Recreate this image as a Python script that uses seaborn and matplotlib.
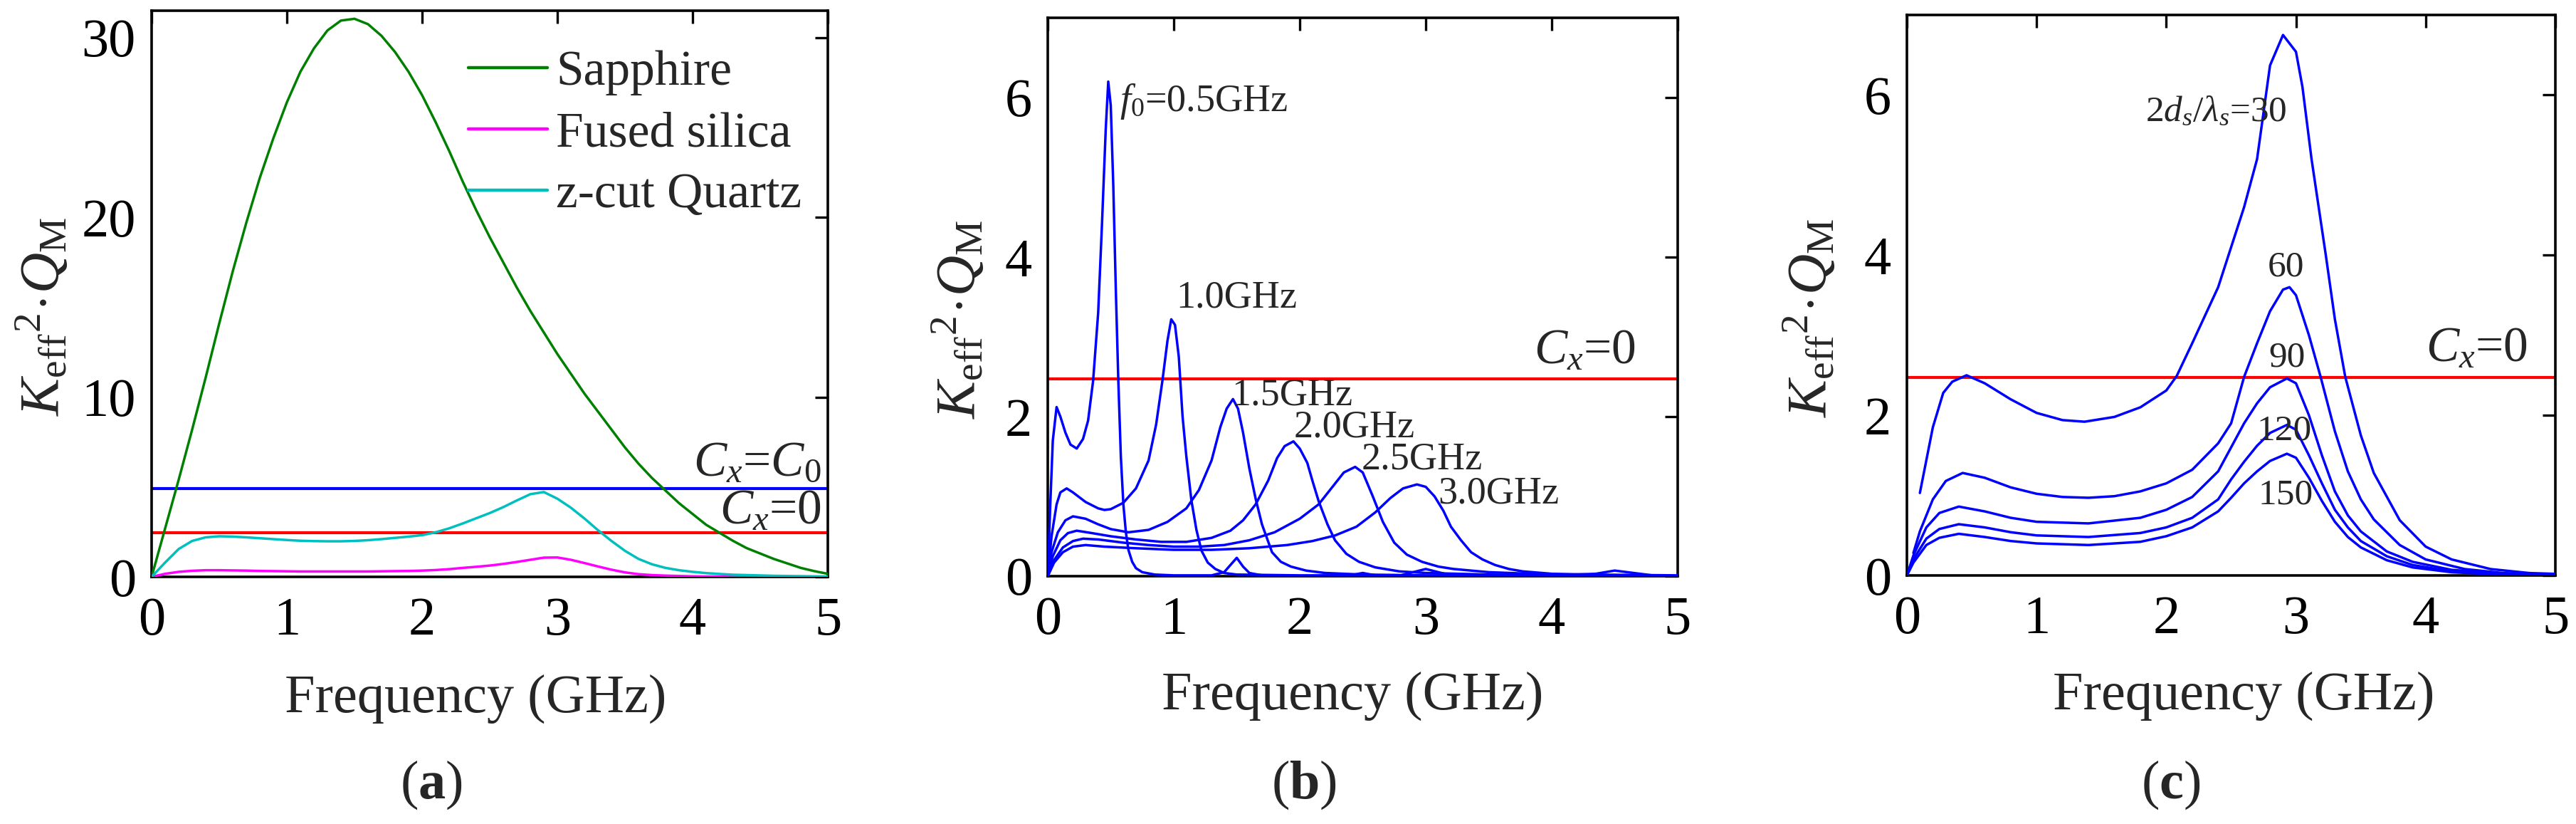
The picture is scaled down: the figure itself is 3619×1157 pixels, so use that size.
import numpy as np
import pandas as pd
import matplotlib
matplotlib.use("Agg")
import matplotlib.pyplot as plt
import seaborn as sns

# ---------------- data ----------------
# panel (a)
freq_a = [0.0, 0.1, 0.2, 0.3, 0.4, 0.5, 0.6, 0.7, 0.8, 0.9, 1.0, 1.1, 1.2, 1.3, 1.4, 1.5, 1.6, 1.7,
          1.8, 1.9, 2.0, 2.1, 2.2, 2.3, 2.4, 2.5, 2.6, 2.7, 2.8, 2.9, 3.0, 3.1, 3.2, 3.3, 3.4, 3.5,
          3.6, 3.7, 3.8, 3.9, 4.0, 4.1, 4.2, 4.3, 4.4, 4.5, 4.6, 4.7, 4.8, 4.9, 5.0]
sapphire = [0.0, 2.7, 5.4, 8.2, 11.1, 14.1, 17.0, 19.7, 22.2, 24.4, 26.4, 28.1, 29.4, 30.4, 30.95,
            31.05, 30.75, 30.1, 29.2, 28.1, 26.8, 25.3, 23.7, 22.0, 20.4, 18.9, 17.5, 16.1, 14.8,
            13.6, 12.4, 11.3, 10.2, 9.2, 8.2, 7.2, 6.3, 5.5, 4.8, 4.1, 3.5, 2.9, 2.45, 2.0, 1.6,
            1.3, 1.0, 0.75, 0.5, 0.32, 0.17]
fused_silica = [0.0, 0.17, 0.28, 0.34, 0.37, 0.37, 0.36, 0.35, 0.33, 0.32, 0.31, 0.30, 0.30, 0.30,
                0.30, 0.30, 0.30, 0.31, 0.32, 0.33, 0.35, 0.38, 0.43, 0.50, 0.56, 0.63, 0.72, 0.83,
                0.95, 1.07, 1.08, 0.95, 0.77, 0.58, 0.40, 0.25, 0.15, 0.10, 0.07, 0.05, 0.03, 0.02,
                0.02, 0.01, 0.01, 0.01, 0.0, 0.0, 0.0, 0.0, 0.0]
zcut_quartz = [0.0, 0.8, 1.55, 2.0, 2.2, 2.26, 2.24, 2.2, 2.15, 2.1, 2.05, 2.01, 1.99, 1.98, 1.98,
               2.0, 2.04, 2.1, 2.17, 2.24, 2.32, 2.48, 2.7, 2.97, 3.26, 3.55, 3.88, 4.25, 4.6, 4.72,
               4.35, 3.85, 3.25, 2.6, 2.0, 1.45, 1.0, 0.7, 0.5, 0.37, 0.28, 0.21, 0.16, 0.12, 0.10,
               0.08, 0.06, 0.05, 0.04, 0.03, 0.02]
materials = ["Sapphire", "Fused silica", "z-cut Quartz"]
level_cx0 = 2.47
level_cxc0 = 4.91

# panel (b): resonance frequency f0
b_labels = ["f0=0.5GHz", "1.0GHz", "1.5GHz", "2.0GHz", "2.5GHz", "3.0GHz"]
b_x05 = [0, 0.02, 0.04, 0.07, 0.1, 0.14, 0.18, 0.23, 0.28, 0.32, 0.36, 0.4, 0.43, 0.46, 0.48, 0.5,
         0.52, 0.54, 0.56, 0.58, 0.6, 0.62, 0.64, 0.67, 0.7, 0.75, 0.85, 1.0, 1.3, 1.4, 1.45, 1.5,
         1.55, 1.6, 1.7, 2.0, 2.4, 2.5, 2.6, 3.0, 4.0, 5.0]
b_y05 = [0, 0.9, 1.7, 2.12, 2.0, 1.8, 1.65, 1.6, 1.72, 1.95, 2.45, 3.3, 4.4, 5.6, 6.2, 5.9, 4.9, 3.6,
         2.45, 1.5, 0.9, 0.55, 0.33, 0.18, 0.1, 0.05, 0.02, 0.01, 0.01, 0.05, 0.14, 0.23, 0.12, 0.04,
         0.01, 0.0, 0.01, 0.04, 0.01, 0.0, 0.0, 0.0]
b_x10 = [0, 0.03, 0.07, 0.1, 0.15, 0.2, 0.3, 0.4, 0.45, 0.5, 0.6, 0.7, 0.8, 0.86, 0.91, 0.95, 0.98,
         1.01, 1.04, 1.07, 1.1, 1.14, 1.18, 1.22, 1.27, 1.33, 1.4, 1.5, 2.0, 2.8, 2.9, 3.0, 3.1, 3.2,
         4.0, 5.0]
b_y10 = [0, 0.5, 0.9, 1.05, 1.1, 1.05, 0.93, 0.85, 0.83, 0.84, 0.92, 1.1, 1.45, 1.9, 2.45, 2.95,
         3.22, 3.15, 2.75, 2.0, 1.5, 0.95, 0.58, 0.32, 0.17, 0.09, 0.04, 0.02, 0.01, 0.01, 0.05,
         0.09, 0.05, 0.01, 0.0, 0.0]
b_x15 = [0, 0.03, 0.08, 0.14, 0.2, 0.3, 0.4, 0.5, 0.64, 0.8, 0.95, 1.1, 1.2, 1.3, 1.37, 1.42, 1.47,
         1.51, 1.55, 1.6, 1.65, 1.7, 1.78, 1.85, 1.93, 2.05, 2.2, 2.5, 3.0, 4.0, 4.35, 4.5, 4.65,
         4.8, 5.0]
b_y15 = [0, 0.3, 0.55, 0.7, 0.75, 0.72, 0.65, 0.59, 0.55, 0.58, 0.68, 0.85, 1.08, 1.45, 1.87, 2.1,
         2.22, 2.1, 1.8, 1.35, 0.97, 0.65, 0.3, 0.18, 0.12, 0.07, 0.04, 0.02, 0.01, 0.01, 0.03,
         0.07, 0.04, 0.01, 0.0]
b_x20 = [0, 0.04, 0.1, 0.16, 0.23, 0.35, 0.5, 0.7, 0.9, 1.1, 1.3, 1.45, 1.55, 1.65, 1.75, 1.82,
         1.88, 1.95, 2.0, 2.06, 2.1, 2.15, 2.22, 2.28, 2.37, 2.47, 2.6, 2.79, 3.0, 3.5, 4.0, 5.0]
b_y20 = [0, 0.25, 0.45, 0.54, 0.57, 0.54, 0.5, 0.46, 0.43, 0.43, 0.48, 0.57, 0.7, 0.9, 1.2, 1.48,
         1.63, 1.69, 1.6, 1.42, 1.2, 0.94, 0.65, 0.45, 0.28, 0.18, 0.11, 0.06, 0.04, 0.02, 0.01, 0.0]
b_x25 = [0, 0.05, 0.12, 0.2, 0.28, 0.4, 0.6, 0.8, 1.0, 1.2, 1.4, 1.6, 1.8, 2.0, 2.15, 2.25, 2.35,
         2.44, 2.5, 2.58, 2.66, 2.75, 2.85, 2.97, 3.1, 3.22, 3.5, 4.0, 5.0]
b_y25 = [0, 0.2, 0.36, 0.44, 0.47, 0.46, 0.42, 0.39, 0.37, 0.37, 0.39, 0.45, 0.55, 0.72, 0.9, 1.1,
         1.3, 1.37, 1.3, 1.0, 0.68, 0.42, 0.27, 0.18, 0.12, 0.09, 0.05, 0.02, 0.0]
b_x30 = [0, 0.05, 0.12, 0.2, 0.3, 0.45, 0.7, 1.0, 1.3, 1.6, 1.9, 2.1, 2.28, 2.45, 2.6, 2.72, 2.82,
         2.93, 3.0, 3.07, 3.14, 3.2, 3.28, 3.36, 3.45, 3.55, 3.66, 3.77, 4.0, 4.3, 5.0]
b_y30 = [0, 0.17, 0.3, 0.37, 0.39, 0.37, 0.35, 0.33, 0.33, 0.35, 0.39, 0.44, 0.51, 0.62, 0.8, 0.98,
         1.1, 1.15, 1.12, 1.0, 0.82, 0.62, 0.45, 0.3, 0.21, 0.14, 0.09, 0.06, 0.03, 0.02, 0.01]

# panel (c): 2ds/lambda_s
c_labels = ["30", "60", "90", "120", "150"]
c_x30 = [0.1, 0.2, 0.28, 0.35, 0.46, 0.6, 0.8, 1.0, 1.2, 1.37, 1.6, 1.8, 2.0, 2.08, 2.2, 2.3, 2.4,
         2.48, 2.6, 2.7, 2.8, 2.9, 3.0, 3.05, 3.12, 3.23, 3.3, 3.38, 3.5, 3.6, 3.8, 4.0, 4.2, 4.5,
         4.8, 5.0]
c_y30 = [1.03, 1.85, 2.28, 2.42, 2.5, 2.4, 2.2, 2.03, 1.94, 1.92, 1.98, 2.1, 2.31, 2.49, 2.9, 3.25,
         3.6, 4.0, 4.6, 5.2, 6.37, 6.75, 6.54, 6.1, 5.2, 4.0, 3.2, 2.48, 1.75, 1.28, 0.69, 0.36,
         0.2, 0.08, 0.03, 0.02]
c_x60 = [0.05, 0.1, 0.2, 0.3, 0.43, 0.6, 0.8, 1.0, 1.2, 1.4, 1.6, 1.8, 2.0, 2.2, 2.4, 2.5, 2.6, 2.7,
         2.8, 2.9, 2.95, 3.0, 3.1, 3.19, 3.3, 3.4, 3.5, 3.6, 3.8, 4.0, 4.3, 4.6, 5.0]
c_y60 = [0.28, 0.55, 0.95, 1.18, 1.28, 1.22, 1.1, 1.02, 0.98, 0.97, 0.99, 1.05, 1.15, 1.32, 1.65,
         1.9, 2.48, 2.9, 3.3, 3.57, 3.6, 3.5, 3.0, 2.48, 1.8, 1.3, 0.95, 0.7, 0.38, 0.2, 0.08, 0.03,
         0.01]
c_x90 = [0, 0.05, 0.15, 0.25, 0.4, 0.6, 0.8, 1.0, 1.4, 1.8, 2.0, 2.2, 2.4, 2.5, 2.6, 2.7, 2.8, 2.93,
         3.0, 3.1, 3.2, 3.3, 3.4, 3.5, 3.7, 3.9, 4.2, 4.6, 5.0]
c_y90 = [0, 0.25, 0.6, 0.78, 0.86, 0.8, 0.72, 0.67, 0.65, 0.72, 0.82, 0.98, 1.3, 1.6, 1.9, 2.15,
         2.35, 2.46, 2.4, 2.0, 1.5, 1.05, 0.75, 0.55, 0.3, 0.17, 0.07, 0.02, 0.01]
c_x120 = c_x90
c_y120 = [0, 0.2, 0.46, 0.58, 0.64, 0.6, 0.54, 0.5, 0.48, 0.53, 0.6, 0.72, 0.95, 1.2, 1.42, 1.62,
          1.78, 1.88, 1.82, 1.5, 1.15, 0.82, 0.6, 0.43, 0.24, 0.13, 0.05, 0.02, 0.01]
c_x150 = c_x90
c_y150 = [0, 0.16, 0.38, 0.47, 0.52, 0.48, 0.43, 0.4, 0.38, 0.42, 0.49, 0.6, 0.8, 0.97, 1.15, 1.3,
          1.43, 1.52, 1.47, 1.22, 0.93, 0.67, 0.48, 0.35, 0.19, 0.1, 0.04, 0.01, 0.0]

x_ticks = [0, 1, 2, 3, 4, 5]
y_ticks_a = [0, 10, 20, 30]
y_ticks_bc = [0, 2, 4, 6]

# ---------------- style ----------------
sns.set_theme(style="white")
plt.rcParams["font.family"] = ["Liberation Serif", "DejaVu Serif"]
plt.rcParams["mathtext.fontset"] = "custom"
plt.rcParams["mathtext.rm"] = "Liberation Serif"
plt.rcParams["mathtext.it"] = "Liberation Serif:italic"
plt.rcParams["mathtext.bf"] = "Liberation Serif:bold"

GREEN = "#008000"
MAGENTA = "#ff00ff"
CYAN = "#00bfbf"
BLUE = "#0000ff"
RED = "#ff0000"
LW = 2.5
TICK_FS = 55
LABEL_FS = 55

W, H = 3619, 1157
fig = plt.figure(figsize=(W / 100, H / 100), dpi=100)


def px_axes(l, r, t, b):
    return fig.add_axes([l / W, 1 - b / H, (r - l) / W, (b - t) / H])


ax_a = px_axes(213, 1163, 15, 810)
ax_b = px_axes(1472, 2357, 25, 809)
ax_c = px_axes(2679, 3590, 21, 808)

ylabel = r"$K_{\mathrm{eff}}{}^{2}\!\cdot\! Q_{\mathrm{M}}$"


def style(ax, ylim, yticks, ylab_x, xlab_x):
    ax.set_xlim(0, 5)
    ax.set_ylim(*ylim)
    ax.set_xticks(x_ticks)
    ax.set_yticks(yticks)
    ax.tick_params(direction="in", top=True, right=True, length=13, width=2.4,
                   labelsize=TICK_FS, colors="black")
    ax.tick_params(axis="x", pad=20)
    ax.tick_params(axis="y", pad=16)
    for s in ax.spines.values():
        s.set_visible(True)
        s.set_linewidth(2.6)
        s.set_color("black")
    ax.set_facecolor("white")
    ax.set_xlabel("Frequency (GHz)", fontsize=LABEL_FS, va="center")
    ax.xaxis.set_label_coords(xlab_x, -0.215)
    ax.set_ylabel(ylabel, fontsize=LABEL_FS + 2, va="center")
    ax.yaxis.set_label_coords(ylab_x, 0.46)


# ---------------- panel (a) ----------------
ax_a.axhline(level_cxc0, color=BLUE, lw=3.0, zorder=1)
ax_a.axhline(level_cx0, color=RED, lw=3.0, zorder=1)
for vals, col, name in zip([sapphire, fused_silica, zcut_quartz], [GREEN, MAGENTA, CYAN], materials):
    sns.lineplot(x=freq_a, y=vals, ax=ax_a, color=col, lw=LW, label=name,
                 estimator=None, sort=False, zorder=3)
style(ax_a, (0, 31.5), y_ticks_a, -0.161, 0.479)
leg = ax_a.legend(loc="upper left", bbox_to_anchor=(0.468, 0.93), frameon=False,
                  fontsize=50, borderpad=0, borderaxespad=0, handlelength=1.6,
                  handletextpad=0.18, labelspacing=0.32)
for h in leg.get_lines():
    h.set_linewidth(3.2)
ax_a.text(4.95, 6.3, r"$C_x$=$C_0$", fontsize=50, ha="right", va="center")
ax_a.text(4.95, 3.6, r"$C_x$=0", fontsize=50, ha="right", va="center")

# ---------------- panel (b) ----------------
ax_b.axhline(level_cx0, color=RED, lw=3.0, zorder=1)
b_curves = [(b_x05, b_y05), (b_x10, b_y10), (b_x15, b_y15), (b_x20, b_y20), (b_x25, b_y25),
            (b_x30, b_y30)]
for xs, ys in b_curves:
    sns.lineplot(x=xs, y=ys, ax=ax_b, color=BLUE, lw=LW, estimator=None, sort=False,
                 legend=False, zorder=3)
style(ax_b, (0, 7.0), y_ticks_bc, -0.141, 0.484)
b_pos = [(0.57, 5.95), (1.02, 3.49), (1.46, 2.27), (1.95, 1.86), (2.49, 1.46), (3.1, 1.03)]
b_texts = [r"$f_0$=0.5GHz"] + b_labels[1:]
for (tx, ty), s in zip(b_pos, b_texts):
    ax_b.text(tx, ty, s, fontsize=39, ha="left", va="center")
ax_b.text(3.86, 2.82, r"$C_x$=0", fontsize=50, ha="left", va="center")

# ---------------- panel (c) ----------------
ax_c.axhline(level_cx0, color=RED, lw=3.0, zorder=1)
c_curves = [(c_x30, c_y30), (c_x60, c_y60), (c_x90, c_y90), (c_x120, c_y120), (c_x150, c_y150)]
for xs, ys in c_curves:
    sns.lineplot(x=xs, y=ys, ax=ax_c, color=BLUE, lw=LW, estimator=None, sort=False,
                 legend=False, zorder=3)
style(ax_c, (0, 7.0), y_ticks_bc, -0.149, 0.519)
ax_c.text(1.84, 5.78, r"$2d_s/\lambda_s$=" + c_labels[0], fontsize=37, ha="left", va="center")
c_pos = [(2.92, 3.85), (2.93, 2.72), (2.91, 1.80), (2.92, 1.0)]
for (tx, ty), s in zip(c_pos, c_labels[1:]):
    ax_c.text(tx, ty, s, fontsize=37, ha="center", va="center")
ax_c.text(4.0, 2.82, r"$C_x$=0", fontsize=50, ha="left", va="center")

# ---------------- panel letters ----------------
for xpx, letter in [(606, "a"), (1832, "b"), (3050, "c")]:
    fig.text(xpx / W, 1 - 1102 / H, "(" + r"$\mathbf{" + letter + "}$" + ")", fontsize=55,
             ha="center", va="center")

fig.savefig("out.png", dpi=100, facecolor="white")
